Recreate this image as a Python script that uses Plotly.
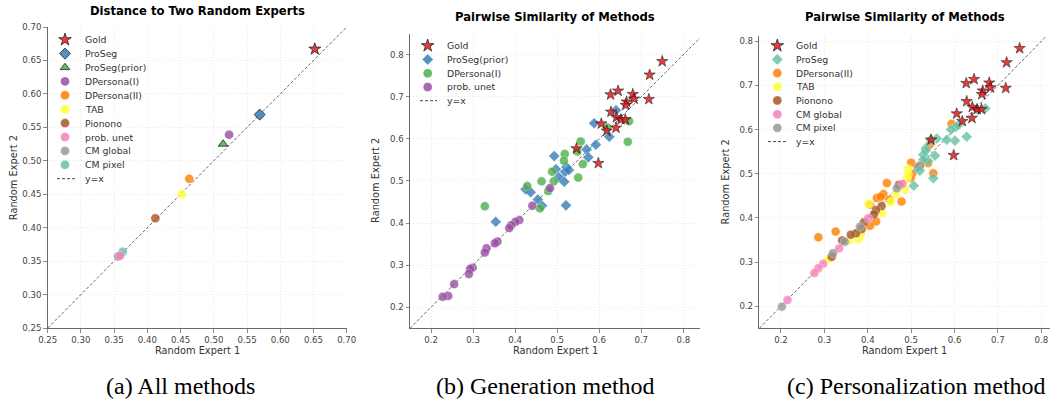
import plotly.graph_objects as go

# ---------------- data ----------------
# (a) all methods: one averaged point per method
methods_a = ["Gold", "ProSeg", "ProSeg(prior)", "DPersona(I)", "DPersona(II)",
             "TAB", "Pionono", "CM pixel", "CM global", "prob. unet"]
a_x = [0.652, 0.569, 0.514, 0.523, 0.463, 0.452, 0.412, 0.363, 0.356, 0.359]
a_y = [0.667, 0.569, 0.525, 0.539, 0.473, 0.450, 0.414, 0.364, 0.357, 0.358]

# gold (expert vs expert) pairs, shared by (b) and (c)
gold_x = [0.750, 0.720, 0.627, 0.645, 0.680, 0.683, 0.718, 0.665, 0.663, 0.628,
          0.641, 0.652, 0.662, 0.605, 0.640, 0.618, 0.546, 0.598]
gold_y = [0.784, 0.752, 0.705, 0.714, 0.706, 0.695, 0.694, 0.688, 0.680, 0.664,
          0.651, 0.646, 0.646, 0.636, 0.626, 0.619, 0.577, 0.542]

# (b) generation methods
b_prior_x = [0.640, 0.588, 0.624, 0.592, 0.570, 0.574, 0.493, 0.497, 0.522, 0.519,
             0.504, 0.517, 0.528, 0.425, 0.437, 0.454, 0.464, 0.521, 0.354]
b_prior_y = [0.668, 0.637, 0.605, 0.586, 0.575, 0.556, 0.559, 0.528, 0.533, 0.522,
             0.509, 0.498, 0.526, 0.480, 0.473, 0.456, 0.441, 0.442, 0.403]
b_dp1_x = [0.671, 0.619, 0.668, 0.556, 0.518, 0.548, 0.516, 0.561, 0.488, 0.550,
           0.463, 0.492, 0.429, 0.479, 0.459, 0.328]
b_dp1_y = [0.642, 0.627, 0.593, 0.594, 0.564, 0.570, 0.548, 0.540, 0.522, 0.508,
           0.499, 0.499, 0.488, 0.476, 0.435, 0.440]
b_pu_x = [0.483, 0.441, 0.410, 0.401, 0.391, 0.386, 0.358, 0.352, 0.332, 0.328,
          0.299, 0.293, 0.290, 0.255, 0.241, 0.228]
b_pu_y = [0.483, 0.441, 0.407, 0.403, 0.395, 0.388, 0.356, 0.352, 0.340, 0.330,
          0.294, 0.291, 0.279, 0.255, 0.227, 0.225]

# (c) personalization methods
c_dp2_x = [0.593, 0.543, 0.500, 0.503, 0.499, 0.539, 0.551, 0.444, 0.421, 0.436,
           0.450, 0.478, 0.405, 0.419, 0.405, 0.326, 0.286, 0.430]
c_dp2_y = [0.613, 0.566, 0.525, 0.501, 0.490, 0.524, 0.501, 0.479, 0.445, 0.454,
           0.441, 0.437, 0.430, 0.392, 0.382, 0.369, 0.356, 0.448]
c_tab_x = [0.493, 0.490, 0.486, 0.465, 0.433, 0.384, 0.378, 0.357, 0.309, 0.453,
           0.493, 0.402]
c_tab_y = [0.511, 0.489, 0.464, 0.454, 0.411, 0.362, 0.352, 0.349, 0.306, 0.436,
           0.498, 0.432]
c_pion_x = [0.520, 0.472, 0.432, 0.419, 0.414, 0.391, 0.386, 0.373, 0.361, 0.341, 0.317]
c_pion_y = [0.518, 0.475, 0.427, 0.418, 0.408, 0.390, 0.375, 0.365, 0.362, 0.349, 0.312]
c_cmg_x = [0.480, 0.401, 0.334, 0.297, 0.286, 0.277, 0.215]
c_cmg_y = [0.477, 0.399, 0.331, 0.296, 0.286, 0.275, 0.214]
c_cmp_x = [0.467, 0.382, 0.347, 0.320, 0.202, 0.515]
c_cmp_y = [0.467, 0.380, 0.346, 0.320, 0.199, 0.515]
c_proseg_x = [0.671, 0.654, 0.610, 0.603, 0.592, 0.628, 0.601, 0.582, 0.559, 0.545,
              0.534, 0.534, 0.528, 0.555, 0.539, 0.520, 0.551, 0.506, 0.528]
c_proseg_y = [0.648, 0.645, 0.611, 0.606, 0.600, 0.584, 0.575, 0.577, 0.580, 0.577,
              0.558, 0.553, 0.543, 0.541, 0.529, 0.507, 0.490, 0.473, 0.532]

titles = ["Distance to Two Random Experts", "Pairwise Similarity of Methods",
          "Pairwise Similarity of Methods"]
captions = ["(a) All methods", "(b) Generation method", "(c) Personalization method"]
xlabel = "Random Expert 1"
ylabel = "Random Expert 2"

# ---------------- styles ----------------
W, H = 1053, 403
RED, BLUE, GREEN, PURPLE = "#e41a1c", "#377eb8", "#4daf4a", "#984ea3"
ORANGE, YELLOW, BROWN, PINK = "#ff7f00", "#ffff33", "#a65628", "#f781bf"
GRAY, TEAL = "#999999", "#66c2a5"
FONT = "DejaVu Sans"

color_a = {"Gold": RED, "ProSeg": BLUE, "ProSeg(prior)": GREEN, "DPersona(I)": PURPLE,
           "DPersona(II)": ORANGE, "TAB": YELLOW, "Pionono": BROWN, "prob. unet": PINK,
           "CM global": GRAY, "CM pixel": TEAL}
symbol_a = {"Gold": "star", "ProSeg": "diamond", "ProSeg(prior)": "triangle-up"}
size_a = {"Gold": 9, "ProSeg": 8.5, "ProSeg(prior)": 8.5}

# panel boxes in pixels: (left, right, top, bottom)
boxes = [(47.7, 346.7, 27.0, 328.0), (410.0, 700.1, 33.6, 328.3), (759.3, 1050.0, 36.0, 328.3)]
ranges = [(0.25, 0.70, 0.25, 0.70), (0.15, 0.84, 0.15, 0.85), (0.15, 0.82, 0.15, 0.812)]

fig = go.Figure()

def axstyle(dt, fmt, t0):
    return dict(showline=True, linecolor="#6b6b6b", linewidth=1, ticks="outside",
                ticklen=3.5, tickwidth=0.8, tickcolor="#6b6b6b",
                tickfont=dict(family=FONT, size=8.6, color="#444"),
                showgrid=True, gridcolor="#e4e4e4", gridwidth=0.8, griddash="1px,2px",
                zeroline=False, dtick=dt, tick0=t0, tickformat=fmt, autorange=False,
                automargin=False, fixedrange=True)

layout = dict(template="none", width=W, height=H,
              margin=dict(l=0, r=0, t=0, b=0, pad=0, autoexpand=False),
              paper_bgcolor="white", plot_bgcolor="rgba(0,0,0,0)", showlegend=False)
for i, ((l, r, t, b), (x0, x1, y0, y1)) in enumerate(zip(boxes, ranges)):
    sfx = "" if i == 0 else str(i + 1)
    dt, fmt, t0 = (0.05, ".2f", 0.25) if i == 0 else (0.1, ".1f", 0.2)
    xa = axstyle(dt, fmt, t0); xa.update(domain=[l / W, r / W], range=[x0, x1], anchor="y" + sfx)
    ya = axstyle(dt, fmt, t0); ya.update(domain=[1 - b / H, 1 - t / H], range=[y0, y1], anchor="x" + sfx)
    layout["xaxis" + sfx] = xa
    layout["yaxis" + sfx] = ya
# pixel overlay axis for legends and texts
layout["xaxis4"] = dict(domain=[0, 1], range=[0, W], visible=False, anchor="y4",
                        fixedrange=True, automargin=False)
layout["yaxis4"] = dict(domain=[0, 1], range=[H, 0], visible=False, anchor="x4",
                        fixedrange=True, automargin=False)
fig.update_layout(**layout)

def diag(i):
    x0, x1, y0, y1 = ranges[i]
    lo, hi = min(x0, y0), min(x1, y1)
    sfx = "" if i == 0 else str(i + 1)
    fig.add_trace(go.Scatter(x=[lo, hi], y=[lo, hi], mode="lines", xaxis="x" + sfx, yaxis="y" + sfx,
                             line=dict(color="rgba(40,40,40,0.8)", width=0.9, dash="3px,2px"),
                             hoverinfo="skip"))

def pts(i, xs, ys, color, symbol="circle", size=9, edge="white", ew=0.4, op=0.8):
    sfx = "" if i == 0 else str(i + 1)
    fig.add_trace(go.Scatter(x=xs, y=ys, mode="markers", xaxis="x" + sfx, yaxis="y" + sfx,
                             marker=dict(color=color, symbol=symbol, size=size, opacity=op,
                                         line=dict(color=edge, width=ew))))

# panel (a)
diag(0)
for m, x, y in zip(methods_a, a_x, a_y):
    if m in symbol_a:
        pts(0, [x], [y], color_a[m], symbol_a[m], size_a[m], "black", 0.8, 0.85)
    else:
        pts(0, [x], [y], color_a[m], "circle", 9, "white", 0.3, 0.8)

# panel (b)
diag(1)
pts(1, b_prior_x, b_prior_y, BLUE, "diamond", 8.5)
pts(1, b_dp1_x, b_dp1_y, GREEN)
pts(1, b_pu_x, b_pu_y, PURPLE)
pts(1, gold_x, gold_y, RED, "star", 8.5, "black", 0.6, 0.85)

# panel (c)
diag(2)
pts(2, c_dp2_x, c_dp2_y, ORANGE)
pts(2, c_tab_x, c_tab_y, YELLOW)
pts(2, c_pion_x, c_pion_y, BROWN)
pts(2, c_cmg_x, c_cmg_y, PINK)
pts(2, c_cmp_x, c_cmp_y, GRAY)
pts(2, c_proseg_x, c_proseg_y, TEAL, "diamond", 8.5)
pts(2, gold_x, gold_y, RED, "star", 8.5, "black", 0.6, 0.85)

# ---------------- legends (drawn manually for compact spacing) ----------------
leg_a = ["Gold", "ProSeg", "ProSeg(prior)", "DPersona(I)", "DPersona(II)", "TAB",
         "Pionono", "prob. unet", "CM global", "CM pixel"]
leg_b = [("Gold", RED, "star"), ("ProSeg(prior)", BLUE, "diamond"),
         ("DPersona(I)", GREEN, "circle"), ("prob. unet", PURPLE, "circle")]
leg_c = [("Gold", RED, "star"), ("ProSeg", TEAL, "diamond"), ("DPersona(II)", ORANGE, "circle"),
         ("TAB", YELLOW, "circle"), ("Pionono", BROWN, "circle"), ("CM global", PINK, "circle"),
         ("CM pixel", GRAY, "circle")]
legends = [
    ([(m, color_a[m], symbol_a.get(m, "circle")) for m in leg_a], 65.0, 83.0, 39.7, 13.9, 57, 77),
    (leg_b, 427.7, 445.0, 45.7, 13.75, 420, 437),
    (leg_c, 777.3, 794.0, 45.7, 13.7, 768, 786),
]
annotations = []
for k, (items, mx, tx, y0, dy, l0, l1) in enumerate(legends):
    xs, ys, cols, syms, sizes, ecs, ews = [], [], [], [], [], [], []
    for j, (name, col, sym) in enumerate(items):
        yy = y0 + j * dy
        xs.append(mx); ys.append(yy); cols.append(col); syms.append(sym)
        big = (k == 0 and sym != "circle") or sym == "star"
        sizes.append(9.5 if sym == "star" else (8.5 if sym != "circle" else 9))
        ecs.append("black" if big else "white")
        ews.append(0.8 if big else 0.3)
        annotations.append(dict(x=tx, y=yy, xref="x4", yref="y4", text=name, showarrow=False,
                                xanchor="left", yanchor="middle",
                                font=dict(family=FONT, size=9.3, color="#333")))
    fig.add_trace(go.Scatter(x=xs, y=ys, mode="markers", xaxis="x4", yaxis="y4",
                             marker=dict(color=cols, symbol=syms, size=sizes, opacity=0.85,
                                         line=dict(color=ecs, width=ews)), hoverinfo="skip"))
    yl = y0 + len(items) * dy
    fig.add_trace(go.Scatter(x=[l0, l1], y=[yl, yl], mode="lines", xaxis="x4", yaxis="y4",
                             line=dict(color="#333", width=0.9, dash="3px,2px"), hoverinfo="skip"))
    annotations.append(dict(x=tx, y=yl, xref="x4", yref="y4", text="y=x", showarrow=False,
                            xanchor="left", yanchor="middle",
                            font=dict(family=FONT, size=9.3, color="#333")))

# titles, axis labels, captions
title_y = [10.5, 16.7, 16.7]
cap_x = [180, 545, 916]
for k, (l, r, t, b) in enumerate(boxes):
    cx = (l + r) / 2
    annotations.append(dict(x=cx, y=title_y[k], xref="x4", yref="y4", text=titles[k],
                            showarrow=False, xanchor="center", yanchor="middle",
                            font=dict(family=FONT, size=11.6, color="black", weight="bold")))
    annotations.append(dict(x=cx, y=350.7, xref="x4", yref="y4", text=xlabel, showarrow=False,
                            xanchor="center", yanchor="middle",
                            font=dict(family=FONT, size=9.8, color="#333")))
    annotations.append(dict(x=l - 34, y=(t + b) / 2, xref="x4", yref="y4", text=ylabel,
                            showarrow=False, textangle=-90, xanchor="center", yanchor="middle",
                            font=dict(family=FONT, size=9.8, color="#333")))
    annotations.append(dict(x=cap_x[k], y=386, xref="x4", yref="y4", text=captions[k],
                            showarrow=False, xanchor="center", yanchor="middle",
                            font=dict(family="Liberation Serif", size=24, color="black")))
fig.update_layout(annotations=annotations)

# the figure is exactly the window size: remove the default page margin
fig.write_html("out.html", config={"displayModeBar": False, "staticPlot": True},
               post_script="document.body.style.margin='0px';document.body.style.overflow='hidden';")
